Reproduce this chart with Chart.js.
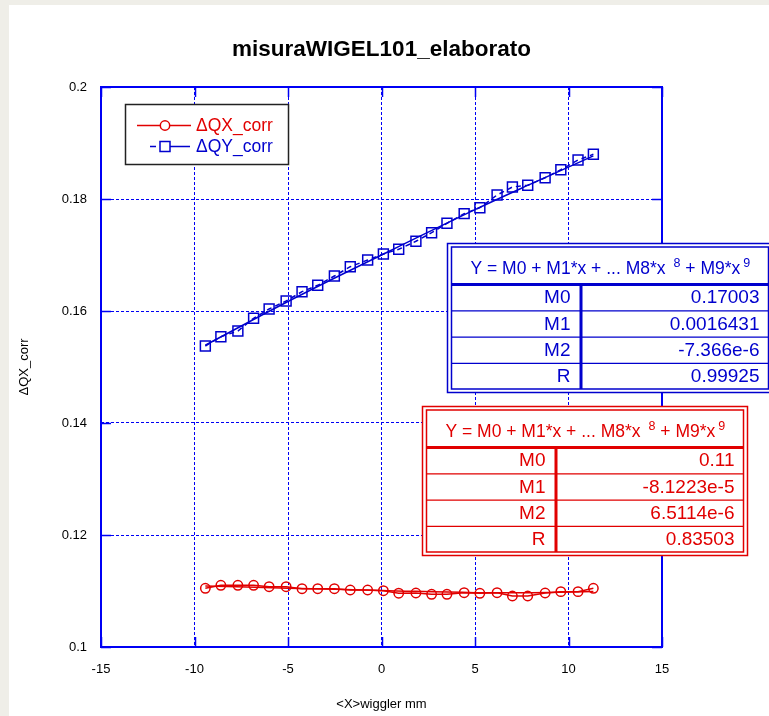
<!DOCTYPE html>
<html><head><meta charset="utf-8">
<script src="https://cdn.jsdelivr.net/npm/chart.js@4/dist/chart.umd.min.js"></script>
<style>html,body{margin:0;padding:0;background:#efeee8;overflow:hidden;}canvas{display:block;}</style>
</head><body>
<canvas id="c" width="769" height="716"></canvas>
<script>
// ---- data ----
const xPositions = [-9.42,-8.59,-7.68,-6.84,-6.01,-5.10,-4.25,-3.41,-2.52,-1.67,-0.74,0.10,0.92,1.84,2.68,3.50,4.42,5.26,6.18,7.00,7.82,8.75,9.59,10.51,11.33];
const qxCorr = [0.11048,0.11102,0.11102,0.11102,0.11077,0.11077,0.11041,0.11041,0.11041,0.11018,0.11018,0.11005,0.10961,0.10964,0.10941,0.10941,0.10970,0.10959,0.10970,0.10911,0.10911,0.10964,0.10988,0.10988,0.11048];
const qyCorr = [0.15375,0.15541,0.15643,0.15870,0.16036,0.16179,0.16345,0.16459,0.16625,0.16791,0.16911,0.17018,0.17102,0.17245,0.17398,0.17566,0.17738,0.17845,0.18071,0.18214,0.18245,0.18380,0.18523,0.18696,0.18798];
const fitX = [-9.42,-5,0,5,8,11.33];
const fitQX = [0.1109,0.1105,0.1101,0.1097,0.1097,0.1099];
const fitQY = [0.1539,0.1617,0.1700,0.1781,0.1827,0.1877];
const xTicks = [-15,-10,-5,0,5,10,15];
const yTicks = [0.1,0.12,0.14,0.16,0.18,0.2];
const seriesLabels = ['\u0394QX_corr','\u0394QY_corr'];
const chartTitle = 'misuraWIGEL101_elaborato';
const xTitle = '<X>wiggler mm';
const yTitle = '\u0394QX_corr';
const fitHeaderParts = ['Y = M0 + M1*x + ... M8*x', '8', ' + M9*x', '9'];
const fitRowNames = ['M0','M1','M2','R'];
const fitQYValues = ['0.17003','0.0016431','-7.366e-6','0.99925'];
const fitQXValues = ['0.11','-8.1223e-5','6.5114e-6','0.83503'];

const RED = 'rgb(225,0,0)';
const BLUE = 'rgb(0,0,205)';
const GRID = 'rgb(0,0,245)';
const FONT = '"Liberation Sans", Arial, Helvetica, sans-serif';

const pts = (xs, ys) => xs.map((x, i) => ({x: x, y: ys[i]}));

const framePlugin = {
  id: 'frame',
  beforeDraw(chart) {
    const ctx = chart.ctx;
    ctx.save();
    ctx.fillStyle = '#efeee8';
    ctx.fillRect(0, 0, chart.width, chart.height);
    ctx.fillStyle = '#ffffff';
    ctx.fillRect(9, 5, chart.width - 9, chart.height - 5);
    ctx.restore();
  },
  afterDatasetsDraw(chart) {
    const ctx = chart.ctx, a = chart.chartArea;
    const xs = chart.scales.x, ys = chart.scales.y;
    ctx.save();
    ctx.strokeStyle = GRID;
    ctx.lineWidth = 1.5;
    ctx.beginPath();
    xTicks.forEach(v => {
      const px = Math.round(xs.getPixelForValue(v)) + 0.5;
      ctx.moveTo(px, a.bottom); ctx.lineTo(px, a.bottom - 10);
      ctx.moveTo(px, a.top); ctx.lineTo(px, a.top + 10);
    });
    yTicks.forEach(v => {
      const py = Math.round(ys.getPixelForValue(v)) + 0.5;
      ctx.moveTo(a.left, py); ctx.lineTo(a.left + 10, py);
      ctx.moveTo(a.right, py); ctx.lineTo(a.right - 10, py);
    });
    ctx.stroke();
    ctx.lineWidth = 2;
    ctx.strokeRect(a.left, a.top, a.right - a.left, a.bottom - a.top);
    ctx.restore();
  },
  afterDraw(chart) {
    const ctx = chart.ctx;
    ctx.save();
    // legend
    const lx = 125.5, ly = 104.5, lw = 163, lh = 60;
    ctx.fillStyle = '#fff';
    ctx.fillRect(lx, ly, lw, lh);
    ctx.strokeStyle = '#222';
    ctx.lineWidth = 1.5;
    ctx.strokeRect(lx, ly, lw, lh);
    const rows = [{c: RED, y: 125.5}, {c: BLUE, y: 146.5}];
    rows.forEach((r, i) => {
      ctx.strokeStyle = r.c;
      ctx.lineWidth = 1.5;
      ctx.beginPath();
      if (i === 0) { ctx.moveTo(137, r.y); ctx.lineTo(191, r.y); }
      else { ctx.moveTo(150, r.y); ctx.lineTo(156, r.y); ctx.moveTo(170, r.y); ctx.lineTo(190, r.y); }
      ctx.stroke();
      ctx.beginPath();
      if (i === 0) ctx.arc(165, r.y, 4.7, 0, Math.PI * 2);
      else ctx.rect(160, r.y - 5, 10, 10);
      ctx.fillStyle = '#fff';
      ctx.fill();
      ctx.stroke();
      ctx.fillStyle = r.c;
      ctx.font = '17.5px ' + FONT;
      ctx.textBaseline = 'middle';
      ctx.textAlign = 'left';
      ctx.fillText(seriesLabels[i], 196, r.y + 1);
    });
    // fit tables
    drawTable(ctx, 447.5, 243.5, BLUE, fitQYValues);
    drawTable(ctx, 422.5, 406.5, RED, fitQXValues);
    ctx.restore();
  }
};

function drawTable(ctx, x, y, col, values) {
  const w = 325, h = 149;
  ctx.save();
  ctx.fillStyle = '#fff';
  ctx.fillRect(x, y, w, h);
  ctx.strokeStyle = col;
  ctx.lineWidth = 1.5;
  ctx.strokeRect(x, y, w, h);
  ctx.strokeRect(x + 4, y + 3.5, w - 8, h - 7);
  const ix = x + 4, iw = w - 8;
  const headBottom = y + 41;
  ctx.lineWidth = 3;
  ctx.beginPath();
  ctx.moveTo(ix, headBottom); ctx.lineTo(ix + iw, headBottom);
  ctx.moveTo(x + 133.5, headBottom); ctx.lineTo(x + 133.5, y + h - 3.5);
  ctx.stroke();
  ctx.lineWidth = 1.2;
  const rowH = 26.3;
  ctx.beginPath();
  for (let i = 1; i < 4; i++) {
    const ry = headBottom + rowH * i;
    ctx.moveTo(ix, ry); ctx.lineTo(ix + iw, ry);
  }
  ctx.stroke();
  // header
  ctx.fillStyle = col;
  ctx.textBaseline = 'alphabetic';
  ctx.textAlign = 'left';
  const big = '17.5px ' + FONT, small = '12.5px ' + FONT;
  const supGaps = [8, 3];
  let tx = x + 23;
  const by = y + 30.5;
  fitHeaderParts.forEach((p, i) => {
    const sup = i % 2 === 1;
    ctx.font = sup ? small : big;
    if (sup) tx += supGaps[(i - 1) / 2];
    ctx.fillText(p, tx, sup ? by - 7.5 : by);
    tx += ctx.measureText(p).width;
  });
  ctx.font = '19px ' + FONT;
  ctx.textAlign = 'right';
  for (let i = 0; i < 4; i++) {
    const cy = headBottom + rowH * i + 18.8;
    ctx.fillText(fitRowNames[i], x + 123, cy);
    ctx.fillText(values[i], x + w - 13, cy);
  }
  ctx.restore();
}

new Chart(document.getElementById('c'), {
  type: 'scatter',
  data: {
    datasets: [
      {label: seriesLabels[0] + ' fit', data: pts(fitX, fitQX), showLine: true, borderColor: RED, borderWidth: 1.5, pointRadius: 0, tension: 0.4, order: 3},
      {label: seriesLabels[1] + ' fit', data: pts(fitX, fitQY), showLine: true, borderColor: BLUE, borderWidth: 1.5, pointRadius: 0, tension: 0.4, order: 4},
      {label: seriesLabels[0], data: pts(xPositions, qxCorr), showLine: true, borderColor: RED, borderWidth: 1.5,
       pointStyle: 'circle', pointRadius: 4.7, pointBorderColor: RED, pointBackgroundColor: 'rgba(0,0,0,0)', pointBorderWidth: 1.5, order: 1},
      {label: seriesLabels[1], data: pts(xPositions, qyCorr), showLine: true, borderColor: BLUE, borderWidth: 1.5, borderDash: [5, 4],
       pointStyle: 'rect', pointRadius: 7, pointBorderColor: BLUE, pointBackgroundColor: 'rgba(0,0,0,0)', pointBorderWidth: 1.5, order: 2}
    ]
  },
  options: {
    responsive: false,
    animation: false,
    devicePixelRatio: 1,
    layout: {padding: {left: 0, right: 107, top: 0, bottom: 0}},
    plugins: {
      legend: {display: false},
      tooltip: {enabled: false},
      title: {display: true, text: chartTitle, fullSize: false, color: '#000',
        font: {family: FONT, size: 22.5, weight: 'bold'}, padding: {top: 36.5, bottom: 23.5}}
    },
    scales: {
      x: {
        type: 'linear', min: -15, max: 15,
        afterBuildTicks: s => { s.ticks = xTicks.map(v => ({value: v})); },
        afterFit: s => { s.height = 69; },
        grid: {color: GRID, lineWidth: 1, drawTicks: false},
        border: {display: false, dash: [3, 2]},
        ticks: {color: '#000', font: {family: FONT, size: 13}, padding: 15, maxRotation: 0},
        title: {display: true, text: xTitle, color: '#000', font: {family: FONT, size: 13}, padding: {top: 0, bottom: 4}}
      },
      y: {
        type: 'linear', min: 0.1, max: 0.2,
        afterBuildTicks: s => { s.ticks = yTicks.map(v => ({value: v})); },
        afterFit: s => { s.width = 101; },
        grid: {color: GRID, lineWidth: 1, drawTicks: false},
        border: {display: false, dash: [3, 2]},
        ticks: {color: '#000', font: {family: FONT, size: 13}, padding: 14, callback: v => String(v)},
        title: {display: true, text: yTitle, color: '#000', font: {family: FONT, size: 13}, padding: {top: 17, bottom: 0}}
      }
    }
  },
  plugins: [framePlugin]
});
</script>
</body></html>
